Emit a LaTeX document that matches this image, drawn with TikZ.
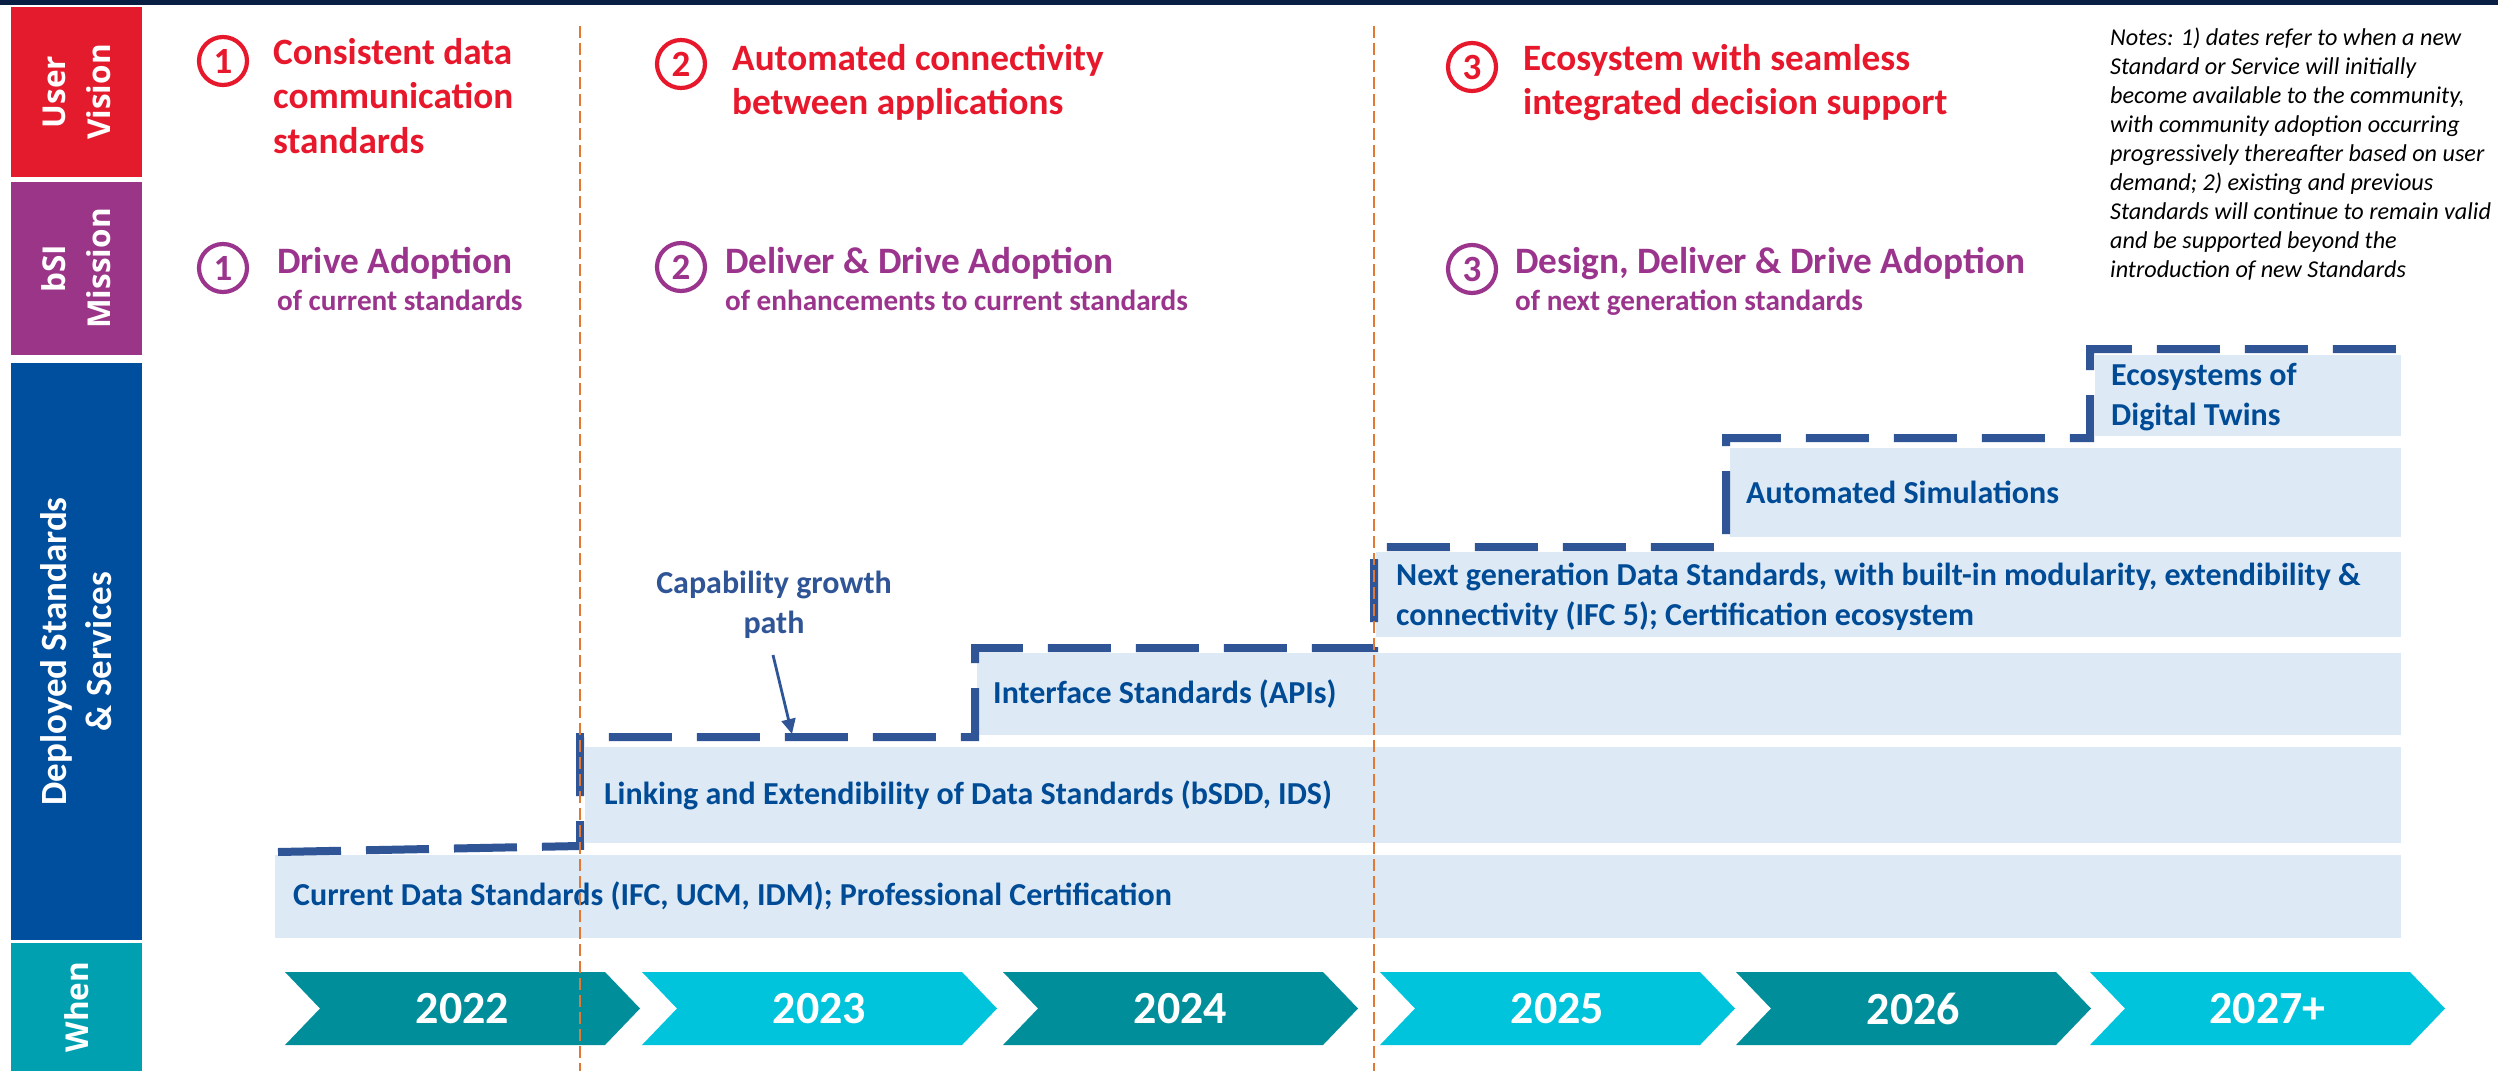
\documentclass[tikz,border=0pt]{standalone}
\usepackage{fontspec}
\setmainfont{Carlito}
\newfontfamily\osans{Open Sans}
\usetikzlibrary{arrows.meta}
\definecolor{navy}{RGB}{8,30,66}
\definecolor{uvred}{RGB}{227,27,45}
\definecolor{txtred}{RGB}{232,24,44}
\definecolor{bsipur}{RGB}{155,53,135}
\definecolor{txtpur}{RGB}{155,52,140}
\definecolor{depblue}{RGB}{0,79,159}
\definecolor{whenteal}{RGB}{0,160,176}
\definecolor{chevdark}{RGB}{0,142,155}
\definecolor{chevlight}{RGB}{0,196,220}
\definecolor{boxfill}{RGB}{221,233,245}
\definecolor{boxtxt}{RGB}{0,75,150}
\definecolor{pathblue}{RGB}{47,85,151}
\definecolor{divorange}{RGB}{226,120,50}
\begin{document}
\begin{tikzpicture}[x=1pt,y=-1pt,
  sidebox/.style={anchor=north west, inner sep=0pt, outer sep=0pt, fill=#1},
  sidelbl/.style={rotate=90, text=white, align=center, inner sep=0pt,
     font=\osans\bfseries\fontsize{31.5}{45}\selectfont},
  deplbl/.style={rotate=90, text=white, align=center, inner sep=0pt,
     font=\bfseries\fontsize{37}{45}\selectfont},
  numcirc/.style={circle, draw=#1, line width=4.2pt, minimum size=48pt, inner sep=0pt,
     text=#1, font=\bfseries\fontsize{37}{37}\selectfont},
  headred/.style={anchor=base west, inner sep=0pt, text=txtred,
     font=\bfseries\fontsize{37.2}{44.5}\selectfont},
  headpur/.style={anchor=base west, inner sep=0pt, text=txtpur,
     font=\bfseries\fontsize{37.3}{44.5}\selectfont},
  subpur/.style={anchor=base west, inner sep=0pt, text=txtpur,
     font=\bfseries\fontsize{29.2}{35}\selectfont},
  notes/.style={anchor=base west, inner sep=0pt, text=black,
     font=\itshape\fontsize{24.2}{29}\selectfont},
  lbox/.style={anchor=north west, inner sep=0pt, outer sep=0pt, fill=boxfill},
  btxt/.style={anchor=west, inner sep=0pt, text=boxtxt, align=left,
     font=\bfseries\fontsize{32}{40}\selectfont},
  captxt/.style={inner sep=0pt, text=pathblue, align=center,
     font=\bfseries\fontsize{32}{40}\selectfont},
  growth/.style={draw=pathblue, line width=8pt, dash pattern=on 63pt off 25pt},
  capar/.style={draw=pathblue, line width=2.8pt, -{Triangle[length=15pt,width=14pt]}},
  yeartxt/.style={inner sep=0pt, text=white, font=\bfseries\fontsize{46}{46}\selectfont},
  divider/.style={draw=divorange, line width=1.5pt, dash pattern=on 12pt off 5pt}
]
\useasboundingbox (0,0) rectangle (2498,1071);
\fill[white] (0,0) rectangle (2498,1071);
% top bar
\fill[navy] (0,0) rectangle (2498,5);

% left column
\node[sidebox=uvred, minimum width=131pt, minimum height=170pt] (uv) at (11,7) {};
\node[sidebox=bsipur, minimum width=131pt, minimum height=173pt] (bm) at (11,182) {};
\node[sidebox=depblue, minimum width=131pt, minimum height=577pt] (ds) at (11,363) {};
\node[sidebox=whenteal, minimum width=131pt, minimum height=128pt] (wh) at (11,943) {};
\node[sidelbl] (uvl) at (uv.center) {User\\Vision};
\node[sidelbl] (bml) at (bm.center) {bSI\\Mission};
\node[deplbl] (dsl) at (ds.center) {Deployed Standards\\\& Services};
\node[sidelbl] (whl) at (wh.center) {When};

% user vision row
\node[numcirc=txtred] (v1) at (223,61) {1};
\node[numcirc=txtred] (v2) at (681,64) {2};
\node[numcirc=txtred] (v3) at (1472,67) {3};
\node[headred] (vt1) at (273,64) {\vtop{\hbox{Consistent data}\hbox{communication}\hbox{standards}}};
\node[headred] (vt2) at (732,70) {\vtop{\hbox{Automated connectivity}\hbox{between applications}}};
\node[headred] (vt3) at (1523,70) {\vtop{\hbox{Ecosystem with seamless}\hbox{integrated decision support}}};

% bSI mission row
\node[numcirc=txtpur] (m1) at (223,268) {1};
\node[numcirc=txtpur] (m2) at (681,267) {2};
\node[numcirc=txtpur] (m3) at (1472,269) {3};
\node[headpur] (mh1) at (277,273) {Drive Adoption};
\node[subpur] (ms1) at (277,310) {of current standards};
\node[headpur] (mh2) at (725,273) {Deliver \& Drive Adoption};
\node[subpur] (ms2) at (725,310) {of enhancements to current standards};
\node[headpur] (mh3) at (1515,273) {Design, Deliver \& Drive Adoption};
\node[subpur] (ms3) at (1515,310) {of next generation standards};

% notes
\node[notes] (nt) at (2110,45) {\vtop{\hbox{Notes: 1) dates refer to when a new}\hbox{Standard or Service will initially}\hbox{become available to the community,}\hbox{with community adoption occurring}\hbox{progressively thereafter based on user}\hbox{demand; 2) existing and previous}\hbox{Standards will continue to remain valid}\hbox{and be supported beyond the}\hbox{introduction of new Standards}}};

% deployed standards boxes
\node[lbox, minimum width=2126pt, minimum height=83pt] (b1) at (275,855) {};
\node[lbox, minimum width=1816pt, minimum height=96pt] (b2) at (585,747) {};
\node[lbox, minimum width=1424pt, minimum height=82pt] (b3) at (977,653) {};
\node[lbox, minimum width=1025pt, minimum height=85pt] (b4) at (1376,552) {};
\node[lbox, minimum width=671pt, minimum height=89pt] (b5) at (1730,448) {};
\node[lbox, minimum width=306pt, minimum height=81pt] (b6) at (2095,355) {};
\node[btxt] (t1) at ([xshift=18pt]b1.west) {Current Data Standards (IFC, UCM, IDM); Professional Certification};
\node[btxt] (t2) at ([xshift=19pt]b2.west) {Linking and Extendibility of Data Standards (bSDD, IDS)};
\node[btxt] (t3) at ([xshift=16pt]b3.west) {Interface Standards (APIs)};
\node[btxt] (t4) at ([xshift=20pt,yshift=-2pt]b4.west) {Next generation Data Standards, with built-in modularity, extendibility \&\\connectivity (IFC 5); Certification ecosystem};
\node[btxt] (t5) at ([xshift=16pt]b5.west) {Automated Simulations};
\node[btxt] (t6) at ([xshift=16pt,yshift=-2pt]b6.west) {Ecosystems of\\Digital Twins};

% capability growth path
\draw[growth] (278,852) -- (580,846) -- (580,737) -- (975,737) -- (975,648)
  -- (1374,648) -- (1374,547) -- (1726,547) -- (1726,438) -- (2090,438)
  -- (2090,349) -- (2404,349);
\node[captxt] (cap) at (774,605) {Capability growth\\path};
\coordinate (arrS) at (773,655);
\coordinate (arrE) at (792,734);
\draw[capar] (arrS) -- (arrE);

% when chevrons
\foreach \L/\yr/\col [count=\i] in {285/2022/chevdark, 642/2023/chevlight, 1003/2024/chevdark, 1380/2025/chevlight, 1736/2026/chevdark, 2090/2027+/chevlight} {
  \fill[\col] (\L,972) -- ++(320,0) -- ++(35,36.5) -- ++(-35,36.5) -- ++(-320,0) -- ++(35,-36.5) -- cycle;
  \node[yeartxt] (yr\i) at (\L+177.5,1009) {\yr};
}

% phase dividers
\draw[divider] (580,26) -- (580,1071);
\draw[divider] (1374,26) -- (1374,1071);
\end{tikzpicture}
\end{document}
